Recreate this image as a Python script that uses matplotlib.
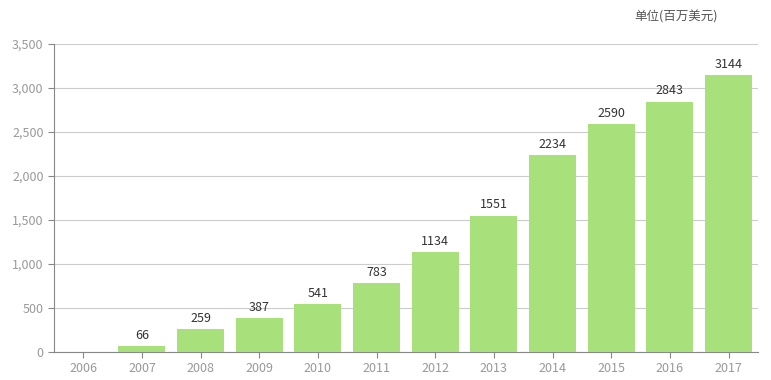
import numpy as np
import matplotlib.pyplot as plt
from matplotlib.ticker import FuncFormatter

plt.rcParams['font.family'] = ['Noto Sans CJK SC', 'DejaVu Sans']

years = ['2006', '2007', '2008', '2009', '2010', '2011', '2012', '2013', '2014', '2015', '2016', '2017']
values = [0, 66, 259, 387, 541, 783, 1134, 1551, 2234, 2590, 2843, 3144]

fig = plt.figure(figsize=(7.71, 3.80), dpi=100)
ax = fig.add_axes([0.070, 0.0737, 0.913, 0.8105])

x = np.arange(len(years))
bars = ax.bar(x, values, width=0.8, color='#a8e07b', zorder=3)

for xi, v in zip(x, values):
    if v > 0:
        ax.text(xi, v + 50, str(v), ha='center', va='bottom', fontsize=9, color='#333333')

ax.set_xlim(-0.5, len(years) - 0.5)
ax.set_ylim(0, 3500)
ax.set_yticks(np.arange(0, 3501, 500))
ax.yaxis.set_major_formatter(FuncFormatter(lambda v, p: f'{int(v):,}'))
ax.set_xticks(x)
ax.set_xticklabels(years)

ax.grid(axis='y', color='#cccccc', linewidth=0.8, zorder=0)
for s in ['top', 'right']:
    ax.spines[s].set_visible(False)
for s in ['left', 'bottom']:
    ax.spines[s].set_color('#888888')
ax.tick_params(axis='both', colors='#888888', labelcolor='#999999', labelsize=9, length=4)

fig.text(0.823, 0.955, '单位(百万美元)', fontsize=9, color='#555555', ha='left', va='center')

fig.savefig('out.png', dpi=100)
